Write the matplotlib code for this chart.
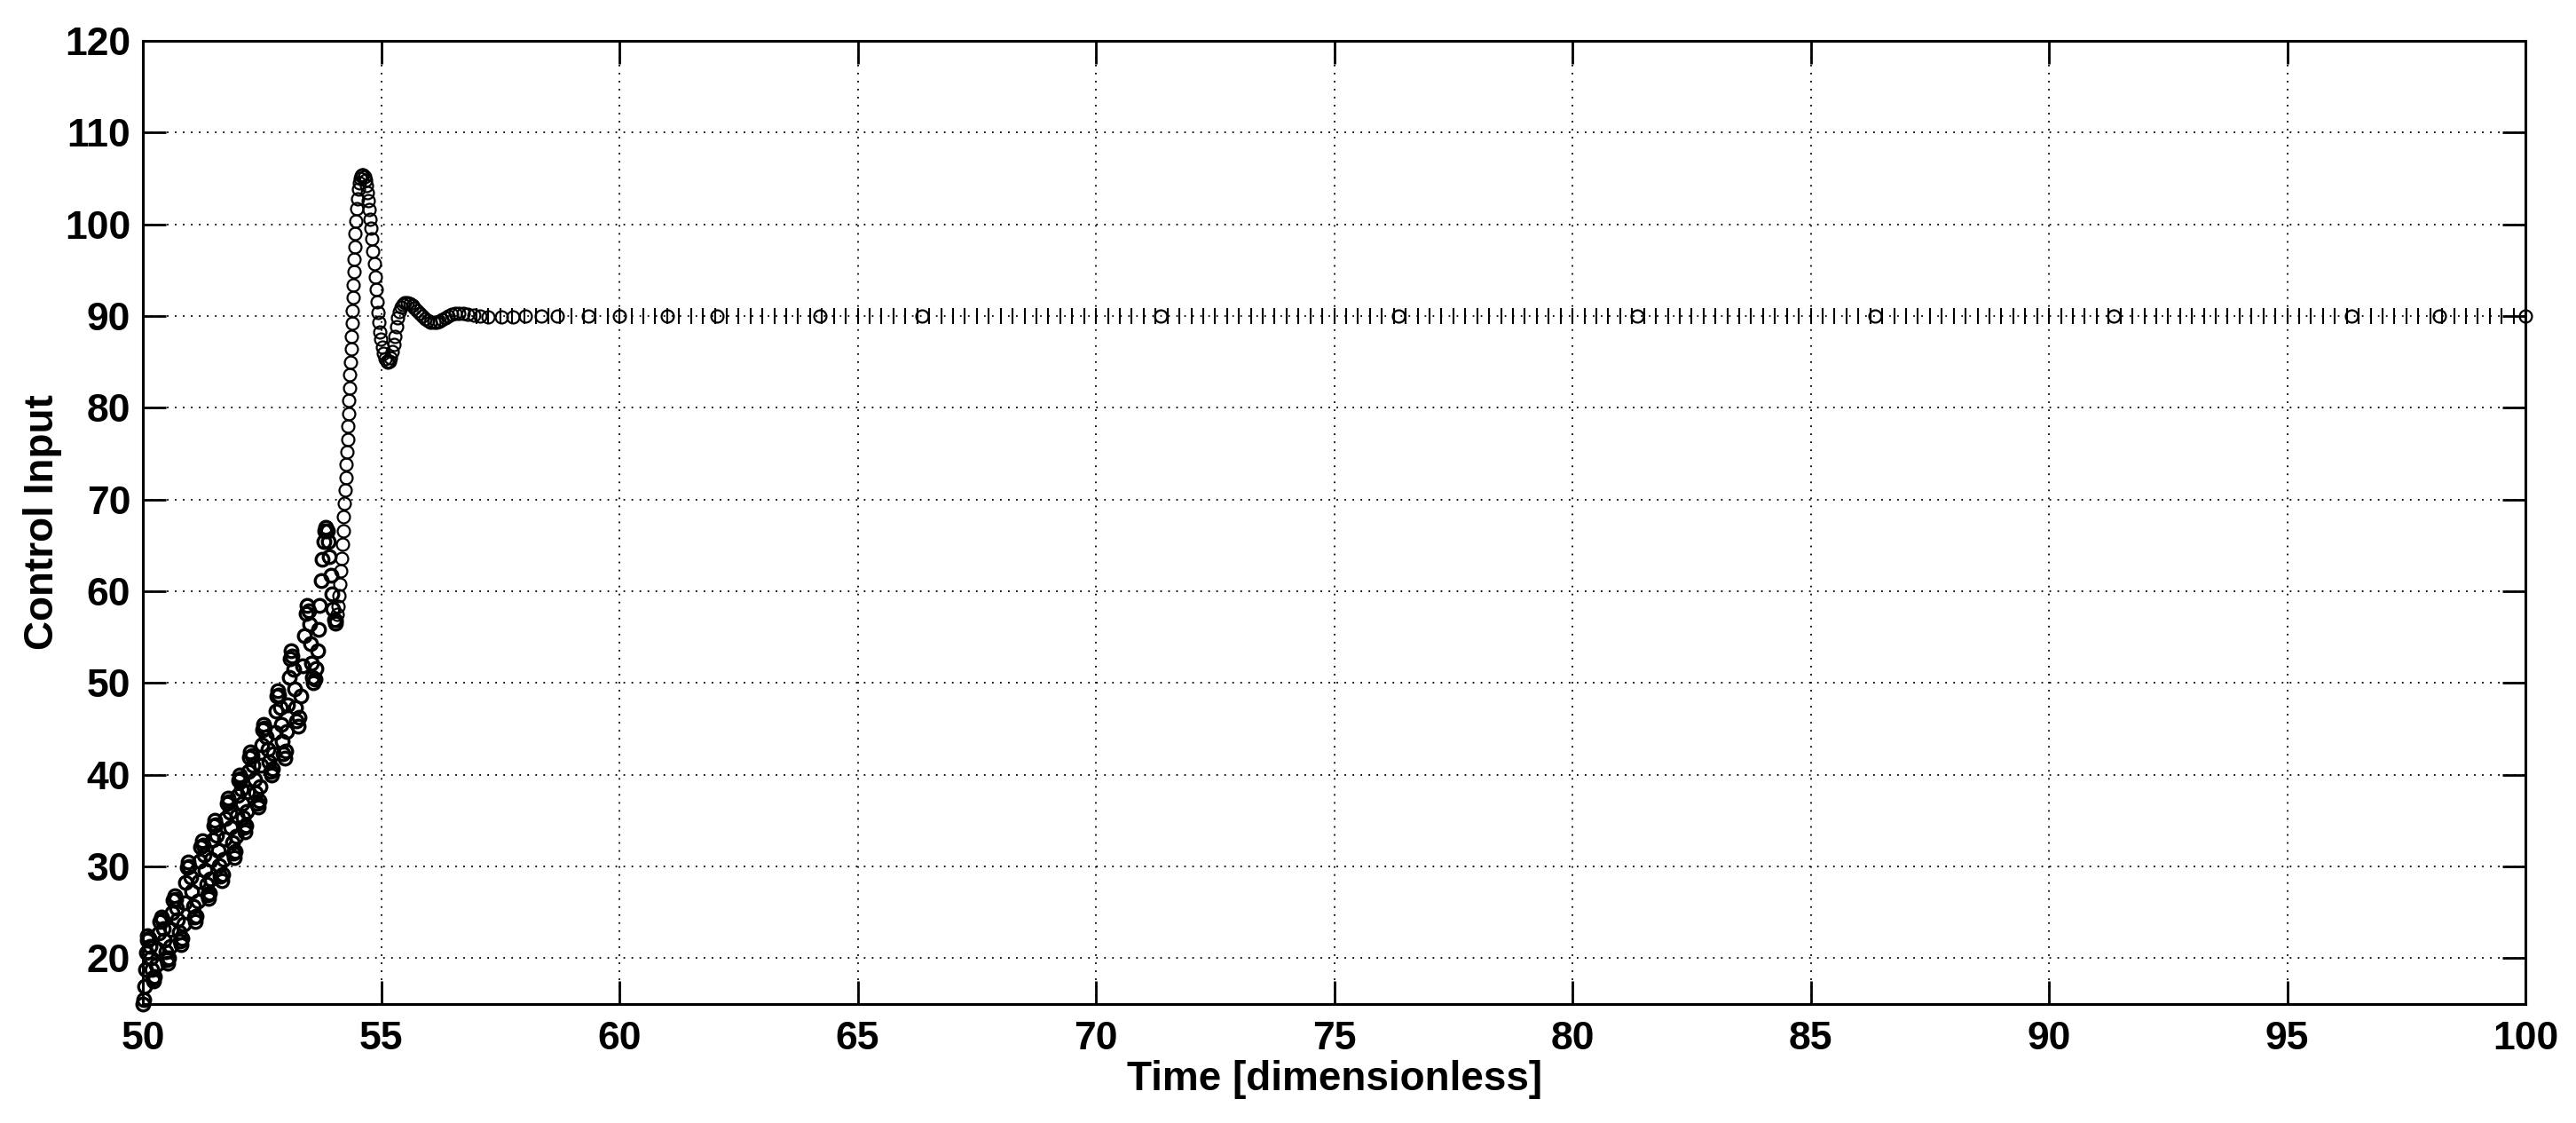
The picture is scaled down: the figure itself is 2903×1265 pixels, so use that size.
import matplotlib
matplotlib.use('Agg')
import matplotlib.pyplot as plt
import numpy as np

# oscillating ramp, t = 50 .. 54.04
ramp_pts = [
    (50.000, 15.0), (50.017, 15.5), (50.033, 16.9), (50.050, 18.75), (50.067, 20.6), (50.083, 22.0), (50.10, 22.5),
    (50.12, 22.15), (50.14, 21.25), (50.16, 20.0), (50.18, 18.75), (50.20, 17.85), (50.22, 17.5),
    (50.247, 17.97), (50.273, 19.25), (50.30, 21.0), (50.327, 22.75), (50.353, 24.01), (50.38, 24.5),
    (50.403, 24.15), (50.427, 23.25), (50.45, 22.0), (50.473, 20.75), (50.497, 19.85), (50.52, 19.5),
    (50.543, 19.99), (50.567, 21.33), (50.59, 23.15), (50.613, 24.98), (50.637, 26.29), (50.66, 26.8),
    (50.683, 26.43), (50.707, 25.48), (50.73, 24.15), (50.753, 22.83), (50.777, 21.87), (50.80, 21.5),
    (50.825, 22.13), (50.85, 23.75), (50.875, 26.0), (50.90, 28.25), (50.925, 29.87), (50.95, 30.5),
    (50.975, 30.05), (51.00, 28.88), (51.025, 27.25), (51.05, 25.63), (51.075, 24.45), (51.10, 24.0),
    (51.123, 24.62), (51.147, 26.2), (51.17, 28.4), (51.193, 30.6), (51.217, 32.18), (51.24, 32.8),
    (51.263, 32.36), (51.287, 31.23), (51.31, 29.65), (51.333, 28.08), (51.357, 26.94), (51.38, 26.5),
    (51.40, 27.1), (51.42, 28.63), (51.44, 30.75), (51.46, 32.88), (51.48, 34.41), (51.50, 35.0),
    (51.525, 34.55), (51.55, 33.38), (51.575, 31.75), (51.60, 30.13), (51.625, 28.95), (51.65, 28.5),
    (51.672, 29.13), (51.693, 30.75), (51.715, 33.0), (51.737, 35.25), (51.758, 36.87), (51.78, 37.5),
    (51.803, 37.05), (51.827, 35.88), (51.85, 34.25), (51.873, 32.63), (51.897, 31.45), (51.92, 31.0),
    (51.937, 31.63), (51.953, 33.25), (51.97, 35.5), (51.987, 37.75), (52.003, 39.37), (52.02, 40.0),
    (52.04, 39.57), (52.06, 38.45), (52.08, 36.9), (52.10, 35.35), (52.12, 34.23), (52.14, 33.8),
    (52.16, 34.41), (52.18, 35.98), (52.20, 38.15), (52.22, 40.33), (52.24, 41.89), (52.26, 42.5),
    (52.287, 42.08), (52.313, 41.0), (52.34, 39.5), (52.367, 38.0), (52.393, 36.92), (52.42, 36.5),
    (52.438, 37.13), (52.457, 38.75), (52.475, 41.0), (52.493, 43.25), (52.512, 44.87), (52.53, 45.5),
    (52.558, 45.12), (52.587, 44.13), (52.615, 42.75), (52.643, 41.38), (52.672, 40.39), (52.70, 40.0),
    (52.722, 40.64), (52.743, 42.3), (52.765, 44.6), (52.787, 46.9), (52.808, 48.56), (52.83, 49.2),
    (52.853, 48.68), (52.877, 47.35), (52.90, 45.5), (52.923, 43.65), (52.947, 42.32), (52.97, 41.8),
    (52.993, 42.62), (53.017, 44.73), (53.04, 47.65), (53.063, 50.58), (53.087, 52.68), (53.11, 53.5),
    (53.133, 52.93), (53.157, 51.45), (53.18, 49.4), (53.203, 47.35), (53.227, 45.87), (53.25, 45.3),
    (53.283, 46.22), (53.317, 48.6), (53.35, 51.9), (53.383, 55.2), (53.417, 57.58), (53.45, 58.5),
    (53.472, 57.9), (53.493, 56.38), (53.515, 54.25), (53.537, 52.13), (53.558, 50.6), (53.58, 50.0),
    (53.606, 50.41), (53.632, 51.62), (53.658, 53.5), (53.684, 55.87), (53.71, 58.5),
    (53.736, 61.14), (53.762, 63.5), (53.788, 65.39), (53.814, 66.59), (53.84, 67.0),
    (53.865, 66.6), (53.89, 65.47), (53.915, 63.76), (53.94, 61.75), (53.965, 59.74),
    (53.99, 58.03), (54.015, 56.9), (54.04, 56.5),
]

# big overshoot and settling, t = 54.04 .. 57.1
rise_pts = [
    (54.06, 56.8), (54.08, 57.5), (54.10, 58.4), (54.12, 59.5), (54.14, 60.8),
    (54.155, 62.2), (54.17, 63.6), (54.185, 65.1), (54.20, 66.6), (54.215, 68.1),
    (54.23, 69.6), (54.24, 71.0), (54.255, 72.4), (54.27, 73.8), (54.28, 75.2),
    (54.295, 76.6), (54.305, 78.0), (54.315, 79.4), (54.325, 80.8), (54.335, 82.2),
    (54.345, 83.6), (54.355, 85.0), (54.365, 86.4), (54.375, 87.8), (54.385, 89.2),
    (54.395, 90.6), (54.405, 92.0), (54.415, 93.4), (54.425, 94.8), (54.435, 96.2),
    (54.445, 97.6), (54.455, 99.0), (54.47, 100.4), (54.485, 101.7), (54.50, 102.8),
    (54.52, 103.8), (54.54, 104.5), (54.56, 105.0), (54.58, 105.3), (54.60, 105.4),
    (54.62, 105.35), (54.65, 105.2), (54.67, 104.8), (54.69, 104.2), (54.71, 103.5),
    (54.73, 102.6), (54.75, 101.6), (54.77, 100.6), (54.79, 99.6), (54.81, 98.4),
    (54.83, 97.1), (54.85, 95.7), (54.87, 94.3), (54.89, 92.9), (54.91, 91.6),
    (54.93, 90.4), (54.95, 89.3), (54.97, 88.3), (54.99, 87.5), (55.02, 86.6),
    (55.05, 85.9), (55.08, 85.4), (55.11, 85.1), (55.14, 85.0), (55.17, 85.1),
    (55.20, 85.5), (55.23, 86.1), (55.26, 86.9), (55.29, 87.8), (55.32, 88.8),
    (55.35, 89.8), (55.38, 90.5), (55.42, 91.0), (55.46, 91.3), (55.50, 91.45),
    (55.55, 91.45), (55.60, 91.35), (55.65, 91.2), (55.70, 90.9), (55.75, 90.6),
    (55.80, 90.3), (55.86, 90.0), (55.92, 89.7), (55.98, 89.5), (56.04, 89.35),
    (56.10, 89.3), (56.16, 89.3), (56.22, 89.4), (56.28, 89.6), (56.34, 89.8),
    (56.40, 90.0), (56.47, 90.15), (56.55, 90.25), (56.63, 90.3), (56.72, 90.3),
    (56.82, 90.2), (56.94, 90.1), (57.08, 90.0),
]

# sparse solver steps at steady state
settle_pts = [
    (57.25, 89.9), (57.52, 89.9), (57.77, 89.95), (58.03, 90.0), (58.35, 90.0),
    (58.7, 90.0), (59.35, 90.0), (60.0, 90.0), (61.0, 90.0), (62.05, 90.0),
    (64.2, 90.0), (66.35, 90.0), (71.35, 90.0), (76.35, 90.0), (81.35, 90.0),
    (86.35, 90.0), (91.35, 90.0), (96.35, 90.0), (98.2, 90.0), (100.0, 90.0),
]

# fixed-step samples drawn as vertical ticks
tick_time = np.arange(57.0, 100.01, 0.25)
tick_ctrl = [90.0] * len(tick_time)

xticks = list(range(50, 101, 5))
yticks = list(range(20, 121, 10))

plt.rcParams['font.family'] = ['Liberation Sans', 'DejaVu Sans']
plt.rcParams['font.weight'] = 'bold'

fig = plt.figure(figsize=(29.03, 12.65), dpi=100)
ax = fig.add_axes([0.0555, 0.1059, 0.9249, 0.8577])

# the crowded ramp reads much darker in the original, so heavier edges there
t, u = zip(*ramp_pts)
ax.plot(t, u, 'o', mfc='none', mec='k', ms=10.5, mew=2.4, clip_on=False)
for pts in (rise_pts, settle_pts):
    t, u = zip(*pts)
    ax.plot(t, u, 'o', mfc='none', mec='k', ms=10, mew=1.6, clip_on=False)
ax.plot(tick_time, tick_ctrl, '|', color='k', ms=13, mew=1.5)

ax.set_xlim(50, 100)
ax.set_ylim(15, 120)
ax.set_xticks(xticks)
ax.set_yticks(yticks)
ax.grid(True, color='k', linestyle=(0, (1, 4)), linewidth=1.3)
ax.tick_params(direction='in', length=19, width=2, top=True, right=True,
               labelsize=32)
ax.tick_params(axis='x', pad=14)
ax.tick_params(axis='y', pad=10)
for s in ax.spines.values():
    s.set_linewidth(2.2)

ax.set_xlabel('Time [dimensionless]', fontsize=33, fontweight='bold', labelpad=2)
ax.set_ylabel('Control Input', fontsize=33, fontweight='bold', labelpad=2)

fig.savefig('out.png', dpi=100)
